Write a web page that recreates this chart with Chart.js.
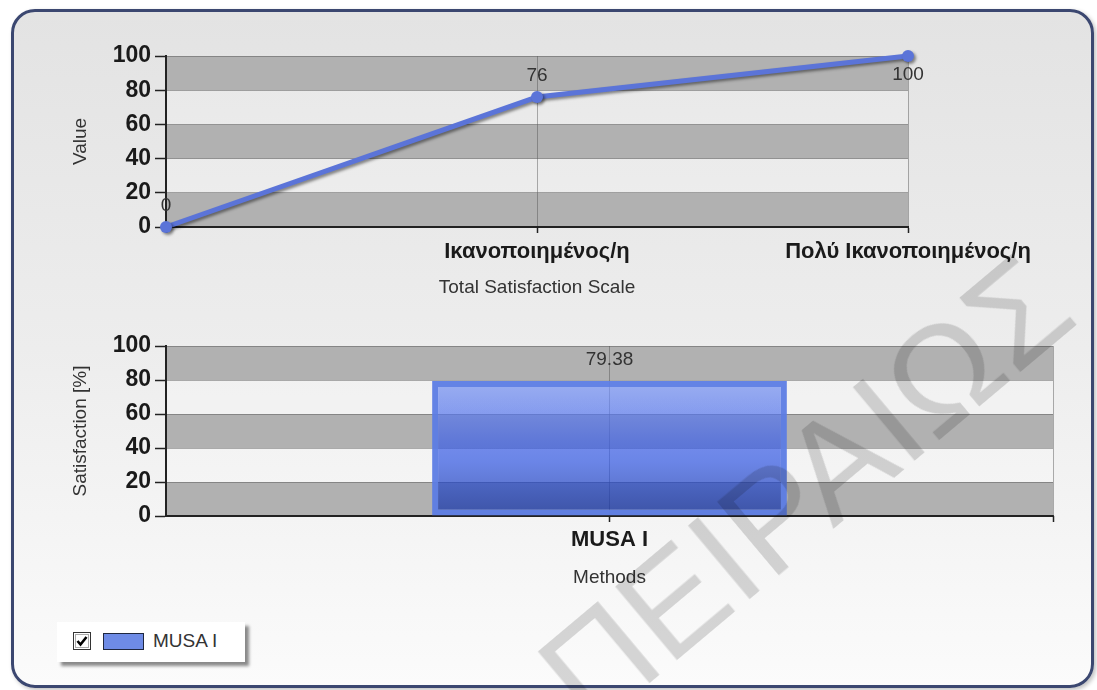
<!DOCTYPE html>
<html>
<head>
<meta charset="utf-8">
<script src="https://cdn.jsdelivr.net/npm/chart.js@4.4.0/dist/chart.umd.min.js"></script>
<style>
  body { margin: 0; background: #fff; font-family: "Liberation Sans", Arial, sans-serif; }
  #page { position: relative; width: 1097px; height: 690px; overflow: hidden; }
  #panel {
    position: absolute; left: 11px; top: 9px; width: 1083px; height: 679px;
    box-sizing: border-box; border: 3px solid #3b4770; border-radius: 24px;
    background: linear-gradient(#e3e3e3, #ededed 50%, #fbfbfb);
    box-shadow: 2px 2px 4px rgba(0,0,0,0.25);
  }
  canvas { position: absolute; left: 0; }
  #topChart { top: 0; }
  #bottomChart { top: 300px; }
  #legend {
    position: absolute; left: 57px; top: 622px; width: 188px; height: 40px;
    background: #fff; box-shadow: 4px 4px 3px #8a8a8a;
  }
  #legend svg { position: absolute; left: 16px; top: 10px; }
  #legend .swatch { position: absolute; left: 46px; top: 11px; width: 39px; height: 15px; border: 1px solid #1f2740; }
  #legend .text { position: absolute; left: 96px; top: 8px; font-size: 19px; color: #333; }
  #mark {
    position: absolute; left: 805px; top: 490px; transform: translate(-50%, -50%) rotate(-40deg);
    font: 140px/1 "Liberation Sans", Arial, sans-serif; color: rgba(0,0,0,0.15);
    white-space: nowrap; pointer-events: none;
  }
</style>
</head>
<body>
<div id="page">
  <div id="panel"></div>
  <canvas id="topChart" width="1097" height="310"></canvas>
  <canvas id="bottomChart" width="1097" height="310"></canvas>
  <div id="legend"></div>
  <div id="mark">ΠΕΙΡΑΙΩΣ</div>
</div>
<script>
var scaleLabels = ['', 'Ικανοποιημένος/η', 'Πολύ Ικανοποιημένος/η'];
var scaleValues = [0, 76, 100];
var methodLabels = ['MUSA I'];
var methodValues = [79.38];
var yMin = 0, yMax = 100, yStep = 20;

var bandDark = '#b1b1b1';
var bandLight = 'rgba(255,255,255,0.18)';
var axisColor = '#222';
var gridColor = 'rgba(80,80,80,0.45)';

// alternating grey stripes between the y ticks
var bandsPlugin = {
  id: 'bands',
  beforeDraw: function(chart) {
    var ctx = chart.ctx, area = chart.chartArea, y = chart.scales.y;
    ctx.save();
    for (var i = 0; i < y.ticks.length - 1; i++) {
      var bottom = y.getPixelForValue(y.ticks[i].value);
      var top = y.getPixelForValue(y.ticks[i + 1].value);
      ctx.fillStyle = i % 2 == 0 ? bandDark : bandLight;
      ctx.fillRect(area.left, top, area.right - area.left, bottom - top);
    }
    ctx.restore();
  }
};

// closing line + tick on the right end of the plot
var edgePlugin = {
  id: 'edge',
  afterDraw: function(chart) {
    var ctx = chart.ctx, area = chart.chartArea;
    ctx.save();
    ctx.strokeStyle = gridColor;
    ctx.lineWidth = 1;
    ctx.beginPath();
    ctx.moveTo(area.right + 0.5, area.top);
    ctx.lineTo(area.right + 0.5, area.bottom);
    ctx.stroke();
    ctx.strokeStyle = axisColor;
    ctx.lineWidth = 1.5;
    ctx.beginPath();
    ctx.moveTo(area.right + 0.5, area.bottom);
    ctx.lineTo(area.right + 0.5, area.bottom + 6);
    ctx.stroke();
    ctx.restore();
  }
};

var shadowPlugin = {
  id: 'lineShadow',
  beforeDatasetsDraw: function(chart) {
    var ctx = chart.ctx;
    ctx.save();
    ctx.shadowColor = 'rgba(0,0,0,0.45)';
    ctx.shadowBlur = 3;
    ctx.shadowOffsetX = 2;
    ctx.shadowOffsetY = 2;
  },
  afterDatasetsDraw: function(chart) {
    chart.ctx.restore();
  }
};

var valueLabels = {
  id: 'valueLabels',
  afterDraw: function(chart) {
    var ctx = chart.ctx, area = chart.chartArea;
    ctx.save();
    ctx.font = '19px "Liberation Sans", Arial, sans-serif';
    ctx.fillStyle = '#333';
    ctx.textAlign = 'center';
    ctx.textBaseline = 'middle';
    chart.data.datasets.forEach(function(ds, di) {
      chart.getDatasetMeta(di).data.forEach(function(el, i) {
        var y = el.y - 21;
        if (y - 10 < area.top) y = el.y + 19;
        ctx.fillText(String(ds.data[i]), el.x, y);
      });
    });
    ctx.restore();
  }
};

function xAxis(title, height, padBottom, tickPad) {
  return {
    type: 'category',
    grid: { color: gridColor, lineWidth: 1, tickLength: 6, tickColor: axisColor, tickWidth: 1.5, offset: false },
    border: { color: axisColor, width: 2 },
    ticks: { font: { family: 'Liberation Sans', size: 22, weight: 'bold' }, color: '#1a1a1a', padding: tickPad, maxRotation: 0, autoSkip: false },
    title: { display: true, text: title, font: { family: 'Liberation Sans', size: 19 }, color: '#333', padding: { top: 0, bottom: padBottom } },
    afterFit: function(s) { s.height = height; }
  };
}

function yAxis(title) {
  return {
    min: yMin, max: yMax,
    ticks: { stepSize: yStep, font: { family: 'Liberation Sans', size: 23, weight: 'bold' }, color: '#1a1a1a', padding: 4 },
    grid: { color: gridColor, lineWidth: 1, tickLength: 11, tickColor: axisColor, tickWidth: 1.5 },
    border: { color: axisColor, width: 2 },
    title: { display: true, text: title, font: { family: 'Liberation Sans', size: 19 }, color: '#333', padding: { top: 69, bottom: 0 } },
    afterFit: function(s) { s.width = 166; }
  };
}

new Chart(document.getElementById('topChart'), {
  type: 'line',
  data: {
    labels: scaleLabels,
    datasets: [{
      label: 'Value',
      data: scaleValues,
      borderColor: '#5b74d8',
      borderWidth: 5,
      pointRadius: 6,
      pointBackgroundColor: '#5b74d8',
      pointBorderWidth: 0,
      tension: 0,
      clip: false
    }]
  },
  options: {
    responsive: false,
    animation: false,
    layout: { padding: { left: 0, right: 189, top: 56, bottom: 0 } },
    plugins: { legend: { display: false }, tooltip: { enabled: false } },
    scales: {
      x: Object.assign(xAxis('Total Satisfaction Scale', 83, 11, 6), { offset: false }),
      y: yAxis('Value')
    }
  },
  plugins: [bandsPlugin, shadowPlugin, valueLabels]
});

var barChart = new Chart(document.getElementById('bottomChart'), {
  type: 'bar',
  data: {
    labels: methodLabels,
    datasets: [{
      label: 'MUSA I',
      data: methodValues,
      borderColor: 'rgba(92,124,228,0.95)',
      borderWidth: 6,
      borderSkipped: false,
      categoryPercentage: 1,
      barPercentage: 0.4,
      backgroundColor: function(c) {
        var chart = c.chart;
        if (!chart.chartArea) return 'rgba(70,100,220,0.7)';
        var y = chart.scales.y;
        var g = chart.ctx.createLinearGradient(0, y.getPixelForValue(c.raw), 0, y.getPixelForValue(0));
        g.addColorStop(0, 'rgba(118,146,242,0.7)');
        g.addColorStop(0.45, 'rgba(60,95,232,0.7)');
        g.addColorStop(0.6, 'rgba(48,86,225,0.7)');
        g.addColorStop(1, 'rgba(11,43,161,0.7)');
        return g;
      }
    }]
  },
  options: {
    responsive: false,
    animation: false,
    layout: { padding: { left: 0, right: 44, top: 46, bottom: 0 } },
    plugins: { legend: { display: false }, tooltip: { enabled: false } },
    scales: {
      x: xAxis('Methods', 94, 21, 5),
      y: yAxis('Satisfaction [%]')
    }
  },
  plugins: [bandsPlugin, edgePlugin, valueLabels]
});

// legend box with the check mark, built from the bar dataset
var legend = document.getElementById('legend');
barChart.data.datasets.forEach(function(ds) {
  legend.innerHTML =
    '<svg width="18" height="18"><rect x="0.5" y="0.5" width="17" height="17" fill="#fff" stroke="#333"/>' +
    '<rect x="2.5" y="2.5" width="13" height="13" fill="none" stroke="#aaa"/>' +
    '<path d="M4.5 9 L7.5 12.5 L13.5 5" stroke="#000" stroke-width="2.6" fill="none"/></svg>' +
    '<div class="swatch" style="background:#6e8be6"></div>' +
    '<div class="text">' + ds.label + '</div>';
});
</script>
</body>
</html>
